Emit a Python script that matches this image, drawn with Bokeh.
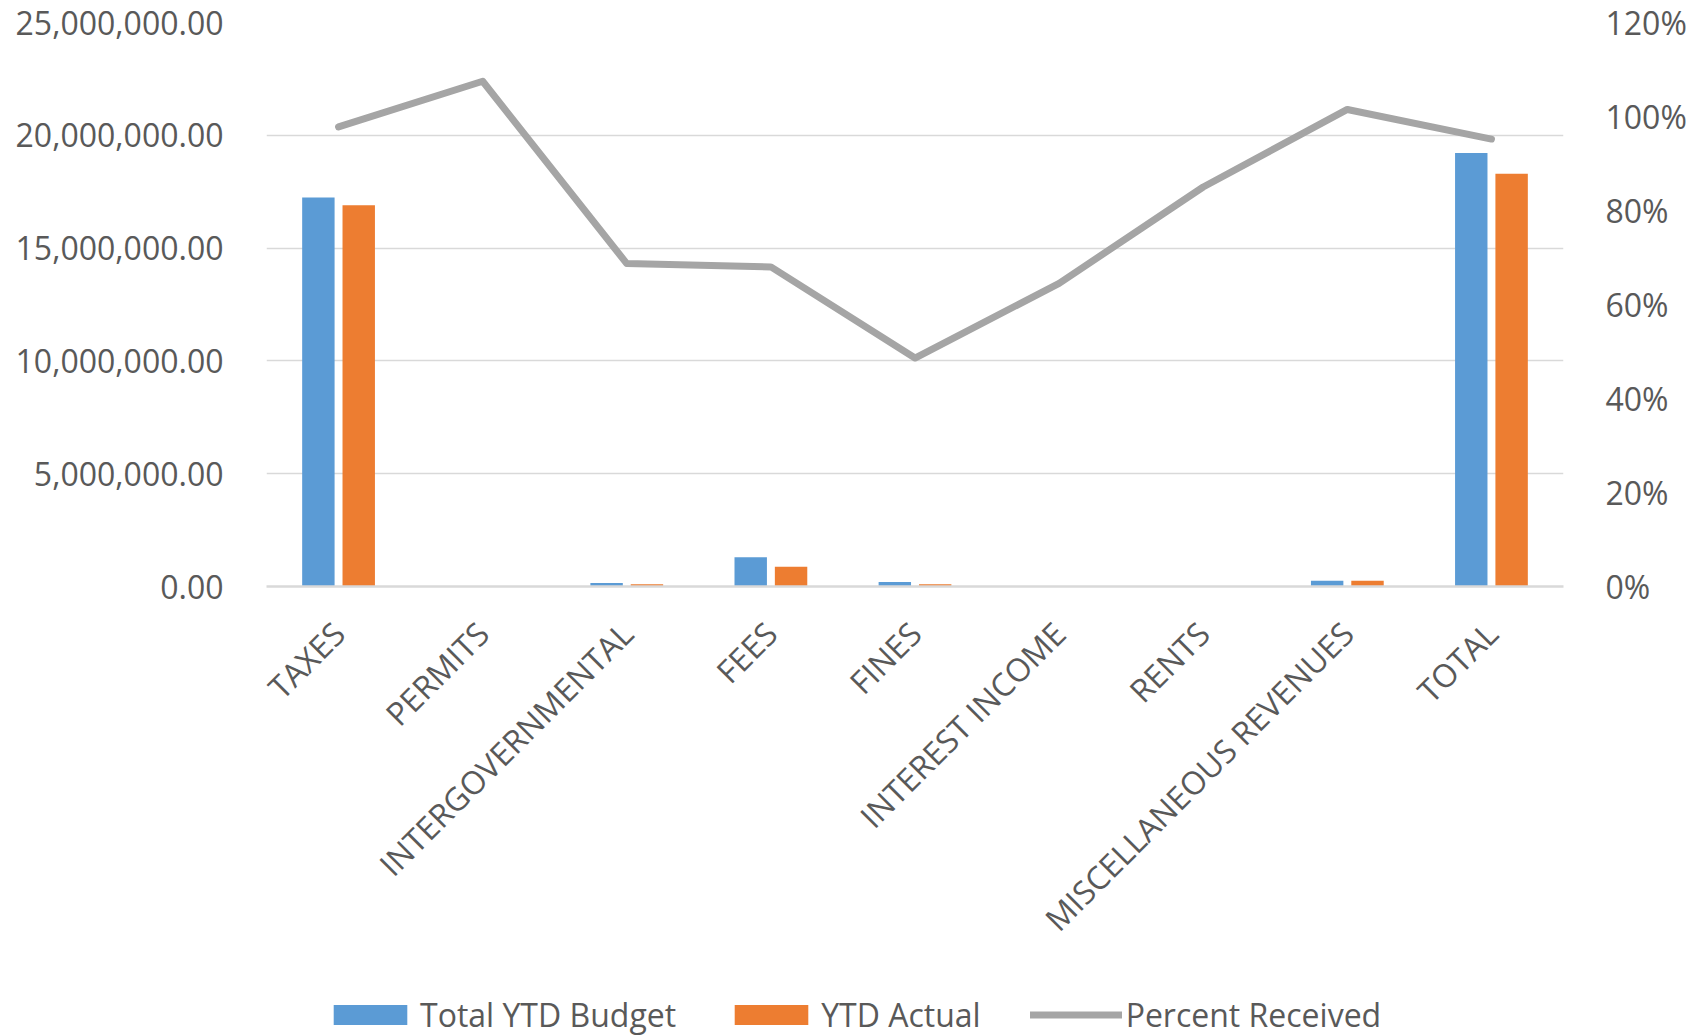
import math
from bokeh.plotting import figure
from bokeh.layouts import column
from bokeh.models import (ColumnDataSource, FactorRange, Range1d, LinearAxis, FixedTicker,
                          NumeralTickFormatter, Legend, LegendItem)
from bokeh.transform import dodge
from bokeh.embed import file_html
from bokeh.resources import INLINE

categories = ["TAXES", "PERMITS", "INTERGOVERNMENTAL", "FEES", "FINES",
              "INTEREST INCOME", "RENTS", "MISCELLANEOUS REVENUES", "TOTAL"]
budget = [17240000, 15000, 150000, 1300000, 200000, 5000, 12000, 250000, 19220000]
actual = [16900000, 16100, 103000, 880000, 97000, 3200, 10200, 253000, 18300000]
percent = [0.978, 1.075, 0.687, 0.68, 0.486, 0.645, 0.85, 1.015, 0.952]

left_ticks = [0, 5000000, 10000000, 15000000, 20000000, 25000000]
right_ticks = [0, 0.2, 0.4, 0.6, 0.8, 1.0, 1.2]
series_names = ["Total YTD Budget", "YTD Actual", "Percent Received"]

FONT = "Open Sans"
TXT = "#595959"
FS = "32px"
C_BUD, C_ACT, C_PCT = "#5B9BD5", "#ED7D31", "#A5A5A5"

src = ColumnDataSource(dict(cat=categories, budget=budget, actual=actual, pct=percent))

p = figure(x_range=FactorRange(*categories, range_padding=0), y_range=Range1d(0, 25000000),
           width=1689, height=966, output_backend="svg", toolbar_location=None,
           min_border_left=266, min_border_right=118, min_border_top=22, min_border_bottom=380)
p.extra_y_ranges = {"pct": Range1d(0, 1.2)}

p.vbar(x=dodge("cat", -0.14, range=p.x_range), top="budget", width=0.225, source=src,
       fill_color=C_BUD, line_color=None)
p.vbar(x=dodge("cat", 0.14, range=p.x_range), top="actual", width=0.225, source=src,
       fill_color=C_ACT, line_color=None)
p.line(x="cat", y="pct", source=src, y_range_name="pct", line_color=C_PCT,
       line_width=7, line_join="round", line_cap="round")

p.outline_line_color = None
p.xgrid.grid_line_color = None
p.ygrid.grid_line_color = "#D9D9D9"
p.ygrid.grid_line_width = 1.5
p.ygrid.ticker = FixedTicker(ticks=left_ticks)

ya = p.yaxis[0]
ya.ticker = FixedTicker(ticks=left_ticks)
ya.formatter = NumeralTickFormatter(format="0,0.00")
ya.axis_line_color = None
ya.major_tick_line_color = None
ya.minor_tick_line_color = None
ya.major_label_standoff = 37
ya.major_label_text_font = FONT
ya.major_label_text_font_size = FS
ya.major_label_text_color = TXT

ra = LinearAxis(y_range_name="pct", ticker=FixedTicker(ticks=right_ticks),
                formatter=NumeralTickFormatter(format="0%"))
ra.axis_line_color = None
ra.major_tick_line_color = None
ra.minor_tick_line_color = None
ra.major_label_standoff = 36
ra.major_label_text_font = FONT
ra.major_label_text_font_size = FS
ra.major_label_text_color = TXT
p.add_layout(ra, "right")

xa = p.xaxis[0]
xa.axis_line_color = "#D9D9D9"
xa.axis_line_width = 2.5
xa.major_tick_line_color = None
xa.minor_tick_line_color = None
xa.major_label_orientation = math.pi / 4
xa.major_label_standoff = 35
xa.major_label_text_font = FONT
xa.major_label_text_font_size = FS
xa.major_label_text_color = TXT

# legend strip below the chart (same series, kept outside its visible range)
lg = figure(width=1689, height=70, output_backend="svg", toolbar_location=None,
            x_axis_location=None, y_axis_location=None, min_border=0,
            x_range=p.x_range, y_range=Range1d(1e9, 2e9))
lg.outline_line_color = None
lg.grid.grid_line_color = None
r1 = lg.vbar(x="cat", top="budget", width=0.225, source=src, fill_color=C_BUD, line_color=None)
r2 = lg.vbar(x="cat", top="actual", width=0.225, source=src, fill_color=C_ACT, line_color=None)
r3 = lg.line(x="cat", y="pct", source=src, line_color=C_PCT, line_width=7, line_cap="round")
legend = Legend(items=[LegendItem(label=series_names[0], renderers=[r1]),
                       LegendItem(label=series_names[1], renderers=[r2]),
                       LegendItem(label=series_names[2], renderers=[r3])],
                location=(58, 0), orientation="horizontal",
                glyph_width=92, glyph_height=25, label_standoff=4, spacing=49,
                padding=0, margin=0, border_line_color=None, background_fill_alpha=0,
                label_text_font=FONT, label_text_font_size=FS, label_text_color=TXT)
lg.add_layout(legend, "center")

layout = column(p, lg, spacing=0)
open("out.html", "w").write(file_html(layout, INLINE))
